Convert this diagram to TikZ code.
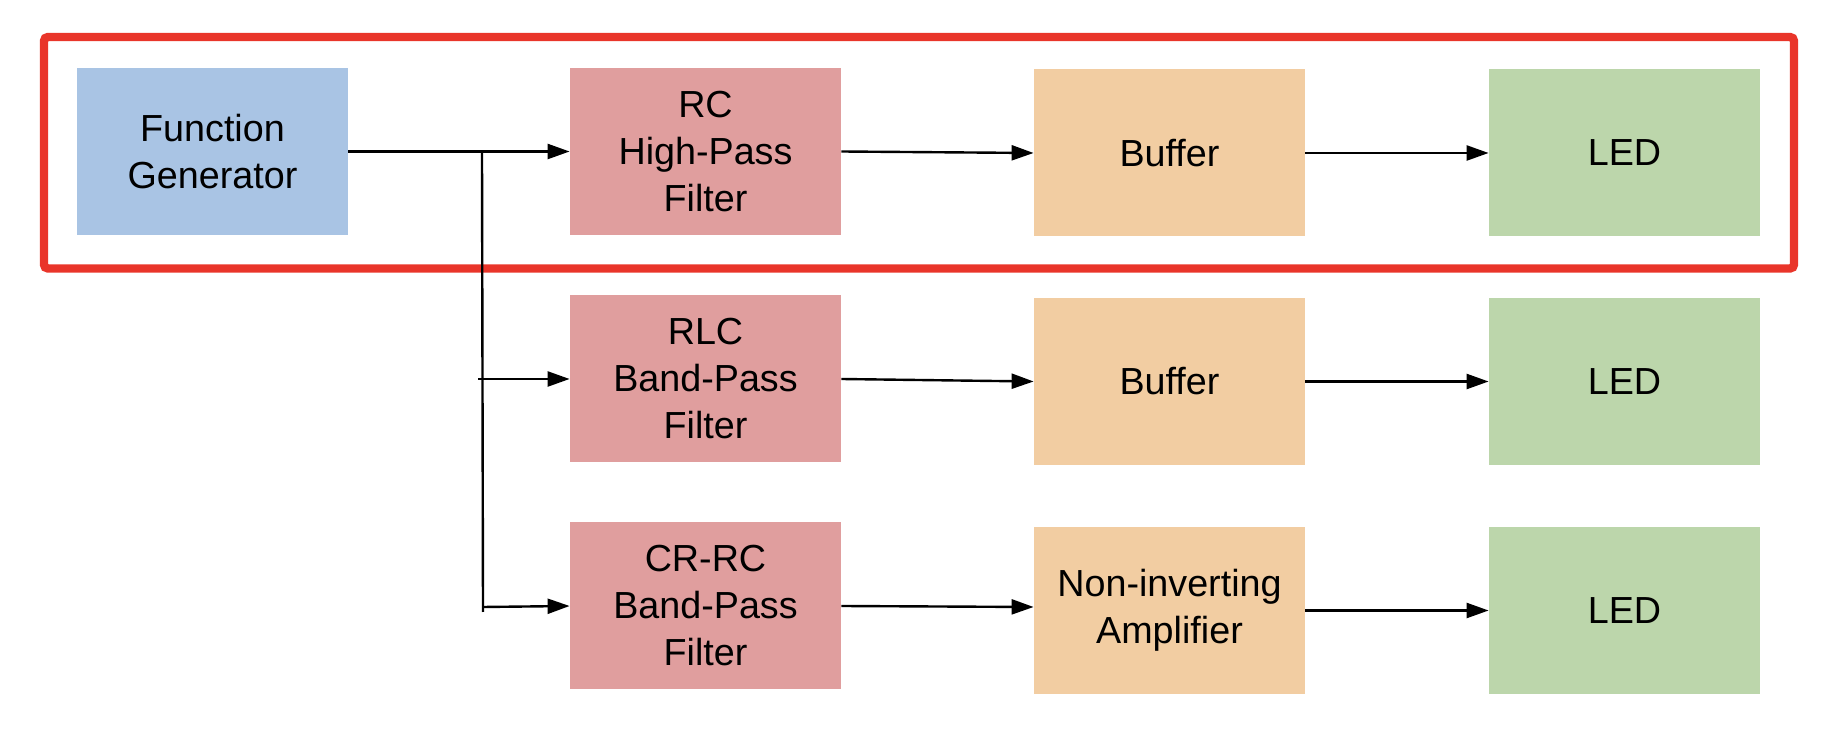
\documentclass[tikz,border=0pt]{standalone}
\usepackage{fontspec}
\setmainfont{Liberation Sans}
\usetikzlibrary{arrows.meta}
\definecolor{fgblue}{HTML}{A9C4E4}
\definecolor{filtpink}{HTML}{E09E9E}
\definecolor{bufor}{HTML}{F2CDA2}
\definecolor{ledgr}{HTML}{BCD6AB}
\definecolor{framered}{HTML}{E9352A}
\begin{document}
\begin{tikzpicture}[x=0.5pt,y=-0.5pt,
  blk/.style={minimum width=135.5pt,minimum height=83.5pt,inner sep=0pt,align=center,draw=none,
    font=\fontsize{18.85}{23.5}\selectfont},
  conn/.style={line width=1.2pt,-{Triangle[length=11pt,width=7.5pt]}},
  wire/.style={line width=1.2pt}]
\useasboundingbox (0,0) rectangle (1832,742);
\draw[framered, line width=4.2pt, rounded corners=2pt] (44,37) rectangle (1794,268.5);
% row 1
\node[blk, fill=fgblue]   (fg)   at (212.5,151.5) {Function\\Generator};
\node[blk, fill=filtpink] (rc)   at (705.5,151.5) {RC\\High-Pass\\Filter};
\node[blk, fill=bufor]    (buf1) at (1169.5,153) {Buffer};
\node[blk, fill=ledgr]    (led1) at (1624.5,153) {LED};
% row 2
\node[blk, fill=filtpink] (rlc)  at (705.5,379) {RLC\\Band-Pass\\Filter};
\node[blk, fill=bufor]    (buf2) at (1169.5,381.5) {Buffer};
\node[blk, fill=ledgr]    (led2) at (1624.5,381.5) {LED};
% row 3
\node[blk, fill=filtpink] (crrc) at (705.5,606) {CR-RC\\Band-Pass\\Filter};
\node[blk, fill=bufor]    (amp)  at (1169.5,610.5) {Non-inverting\\Amplifier};
\node[blk, fill=ledgr]    (led3) at (1624.5,610.5) {LED};
% branch
\coordinate (jt) at (482,153);
\coordinate (jb) at (483,612);
\coordinate (jm) at (478,379);
\coordinate (jl) at (483,607);
% connectors
\draw[conn] (fg.east) -- (rc.west);
\draw[conn] (rc.east) -- (buf1.west);
\draw[conn] (buf1.east) -- (led1.west);
\draw[wire] (jt) -- (jb);
\draw[conn] (jm) -- (rlc.west);
\draw[conn] (rlc.east) -- (buf2.west);
\draw[conn] (buf2.east) -- (led2.west);
\draw[conn] (jl) -- (crrc.west);
\draw[conn] (crrc.east) -- ([yshift=1.75pt]amp.west);
\draw[conn] (amp.east) -- (led3.west);
\end{tikzpicture}
\end{document}
